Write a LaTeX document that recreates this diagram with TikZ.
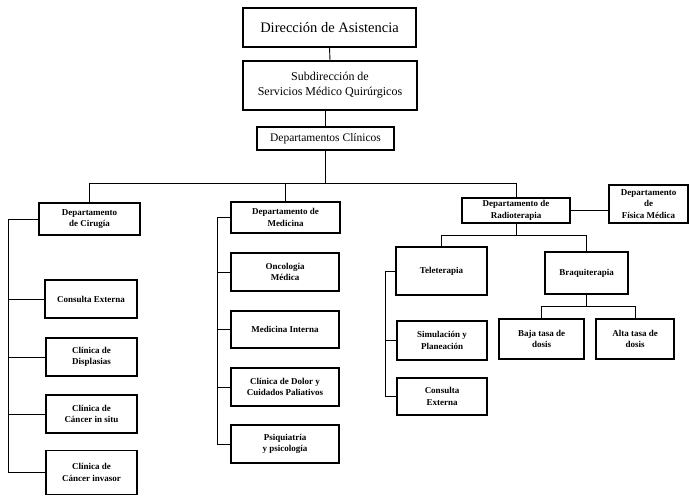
\documentclass[tikz,border=0pt]{standalone}
\usepackage{fontspec}
\setmainfont{Liberation Serif}
\begin{document}
\begin{tikzpicture}[x=1pt,y=-1pt,
  box/.style={draw, line width=1.1pt, align=center, inner sep=1pt, font=\fontsize{9}{11.5}\selectfont\bfseries},
  bigbox/.style={draw, line width=1.1pt, align=center, inner sep=1pt},
  conn/.style={line width=0.9pt}]
\useasboundingbox (0,0) rectangle (690,498);
% top chain
\node[bigbox, minimum width=173pt, minimum height=39pt, font=\fontsize{14.5}{17}\selectfont] (dir) at (329.5,27.5) {Dirección de Asistencia};
\node[bigbox, minimum width=174pt, minimum height=49pt, font=\fontsize{12}{15}\selectfont] (sub) at (330,85.5) {Subdirección de\\Servicios Médico Quirúrgicos};
\node[bigbox, minimum width=137pt, minimum height=23pt, font=\fontsize{11.5}{13}\selectfont] (clin) at (325.5,138.5) {Departamentos Clínicos};
% departments
\node[box, minimum width=101pt, minimum height=32pt] (cir) at (89.5,219) {Departamento\\de Cirugía};
\node[box, minimum width=109pt, minimum height=31pt] (med) at (285.5,217.5) {Departamento de\\Medicina};
\node[box, minimum width=108pt, minimum height=25pt] (rad) at (516,210.5) {Departamento de\\Radioterapia};
\node[box, minimum width=79pt, minimum height=38pt] (fis) at (648.5,204) {Departamento\\de\\Física Médica};
% cirugia children
\node[box, minimum width=92pt, minimum height=38pt] (ce) at (91,299) {Consulta Externa};
\node[box, minimum width=91pt, minimum height=38pt] (disp) at (91.5,357) {Clínica de\\Displasias};
\node[box, minimum width=91pt, minimum height=38pt] (cis) at (91.5,414) {Clínica de\\Cáncer in situ};
\node[box, minimum width=91pt, minimum height=44pt] (cinv) at (91.5,472.5) {Clínica de\\Cáncer invasor};
% medicina children
\node[box, minimum width=108pt, minimum height=38pt] (onc) at (285,272) {Oncología\\Médica};
\node[box, minimum width=108pt, minimum height=37pt] (mi) at (285,329.5) {Medicina Interna};
\node[box, minimum width=108pt, minimum height=38pt] (dol) at (285,387) {Clínica de Dolor y\\Cuidados Paliativos};
\node[box, minimum width=108pt, minimum height=38pt] (psi) at (285,444) {Psiquiatría\\y psicología};
% radioterapia children
\node[box, minimum width=91pt, minimum height=48pt] (tel) at (441.5,271) {Teleterapia};
\node[box, minimum width=83pt, minimum height=42pt] (braq) at (586.5,273) {Braquiterapia};
\node[box, minimum width=90pt, minimum height=39pt] (sim) at (442,340.5) {Simulación y\\Planeación};
\node[box, minimum width=90pt, minimum height=37pt] (cer) at (442,396.5) {Consulta\\Externa};
\node[box, minimum width=85pt, minimum height=40pt] (baja) at (541.5,339) {Baja tasa de\\dosis};
\node[box, minimum width=78pt, minimum height=40pt] (alta) at (635,339) {Alta tasa de\\dosis};
% connectors top
\draw[conn] (dir.south) -- (sub.north);
\draw[conn] (sub.south) -- (clin.south |- sub.south) -- (clin.north);
\coordinate (bus) at (0,183);
\draw[conn] (clin.south) -- (clin.south |- bus);
\draw[conn] (cir.north) |- (rad.north |- bus) -- (rad.north);
\draw[conn] (med.north) -- (med.north |- bus);
\draw[conn] (rad.east) -- (rad.east -| fis.west);
% cirugia spine
\coordinate (sc) at (8,0);
\draw[conn] (cir.west) -| (sc |- cinv.west) -- (cinv.west);
\foreach \n in {ce,disp,cis} \draw[conn] (\n.west) -- (\n.west -| sc);
% medicina spine
\coordinate (sm) at (217,0);
\draw[conn] (med.west) -| (sm |- psi.west) -- (psi.west);
\foreach \n in {onc,mi,dol} \draw[conn] (\n.west) -- (\n.west -| sm);
% radioterapia
\draw[conn] (rad.south) -- ++(0,12) coordinate (rb);
\draw[conn] (tel.north) |- (rb) -| (braq.north);
\coordinate (st) at (385,0);
\draw[conn] (tel.west) -| (st |- cer.west) -- (cer.west);
\draw[conn] (sim.west) -- (sim.west -| st);
\draw[conn] (braq.south) -- ++(0,12) coordinate (bb);
\draw[conn] (baja.north) |- (bb) -| (alta.north);
\end{tikzpicture}
\end{document}
